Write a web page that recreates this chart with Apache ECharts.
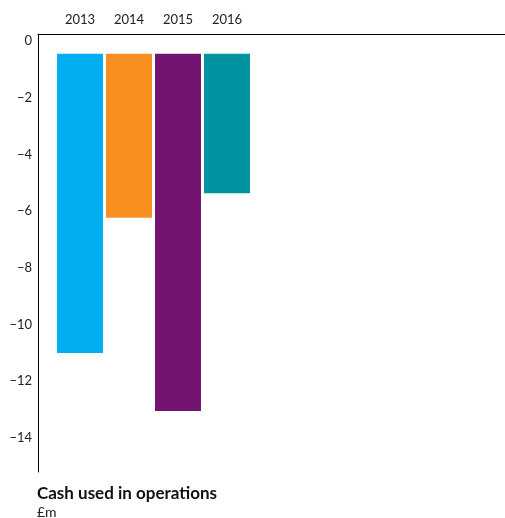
<!DOCTYPE html>
<html>
<head>
<meta charset="utf-8">
<script src="https://cdn.jsdelivr.net/npm/echarts@6/dist/echarts.min.js"></script>
<style>
  html, body { margin: 0; padding: 0; background: #fff; }
  #chart { width: 505px; height: 518px; }
</style>
</head>
<body>
<div id="chart"></div>
<script>
// Cash used in operations, £m
const years = ['2013', '2014', '2015', '2016'];
const cashUsed = [-11.0, -6.23, -13.05, -5.37];
const barColors = ['#00aeef', '#f7901e', '#731570', '#0093a0'];
const yTickValues = [0, -2, -4, -6, -8, -10, -12, -14];

// bars hang a little below the zero line
const barStart = -0.45;
const barWidthUnits = 46 / 49;

const font = 'Lato, "Open Sans", sans-serif';
const chart = echarts.init(document.getElementById('chart'), null, { renderer: 'canvas' });

chart.setOption({
  animation: false,
  backgroundColor: '#fff',
  title: {
    text: 'Cash used in operations',
    subtext: '£m',
    left: 37,
    top: 485,
    padding: 0,
    itemGap: 3,
    textStyle: { fontFamily: font, fontSize: 17, fontWeight: 'bold', color: '#111' },
    subtextStyle: { fontFamily: font, fontSize: 14, color: '#222' }
  },
  grid: { left: 38, right: 0, top: 34, bottom: 46, containLabel: false },
  xAxis: {
    type: 'value',
    position: 'top',
    min: -0.857,
    max: 8.674,
    axisLine: { show: true, onZero: false, lineStyle: { color: '#000', width: 1 } },
    axisTick: { show: false },
    splitLine: { show: false },
    axisLabel: {
      customValues: [0, 1, 2, 3],
      formatter: (v) => years[v],
      margin: 8,
      fontFamily: font,
      fontSize: 13,
      color: '#222'
    }
  },
  yAxis: {
    type: 'value',
    min: -15.2,
    max: 0.25,
    axisLine: { show: true, onZero: false, lineStyle: { color: '#000', width: 1 } },
    axisTick: { show: false },
    splitLine: { show: false },
    axisLabel: {
      customValues: yTickValues,
      formatter: (v) => String(v).replace('-', '\u2212'),
      margin: 6,
      fontFamily: font,
      fontSize: 13,
      color: '#222'
    }
  },
  series: [{
    type: 'custom',
    data: cashUsed.map((v, i) => [i, v]),
    encode: { x: 0, y: 1 },
    renderItem: (params, api) => {
      const x = api.value(0);
      const v = api.value(1);
      const top = api.coord([x, barStart]);
      const bottom = api.coord([x, v]);
      const w = api.size([barWidthUnits, 0])[0];
      return {
        type: 'rect',
        shape: { x: top[0] - w / 2, y: top[1], width: w, height: bottom[1] - top[1] },
        style: { fill: barColors[params.dataIndex] }
      };
    }
  }]
});
</script>
</body>
</html>
